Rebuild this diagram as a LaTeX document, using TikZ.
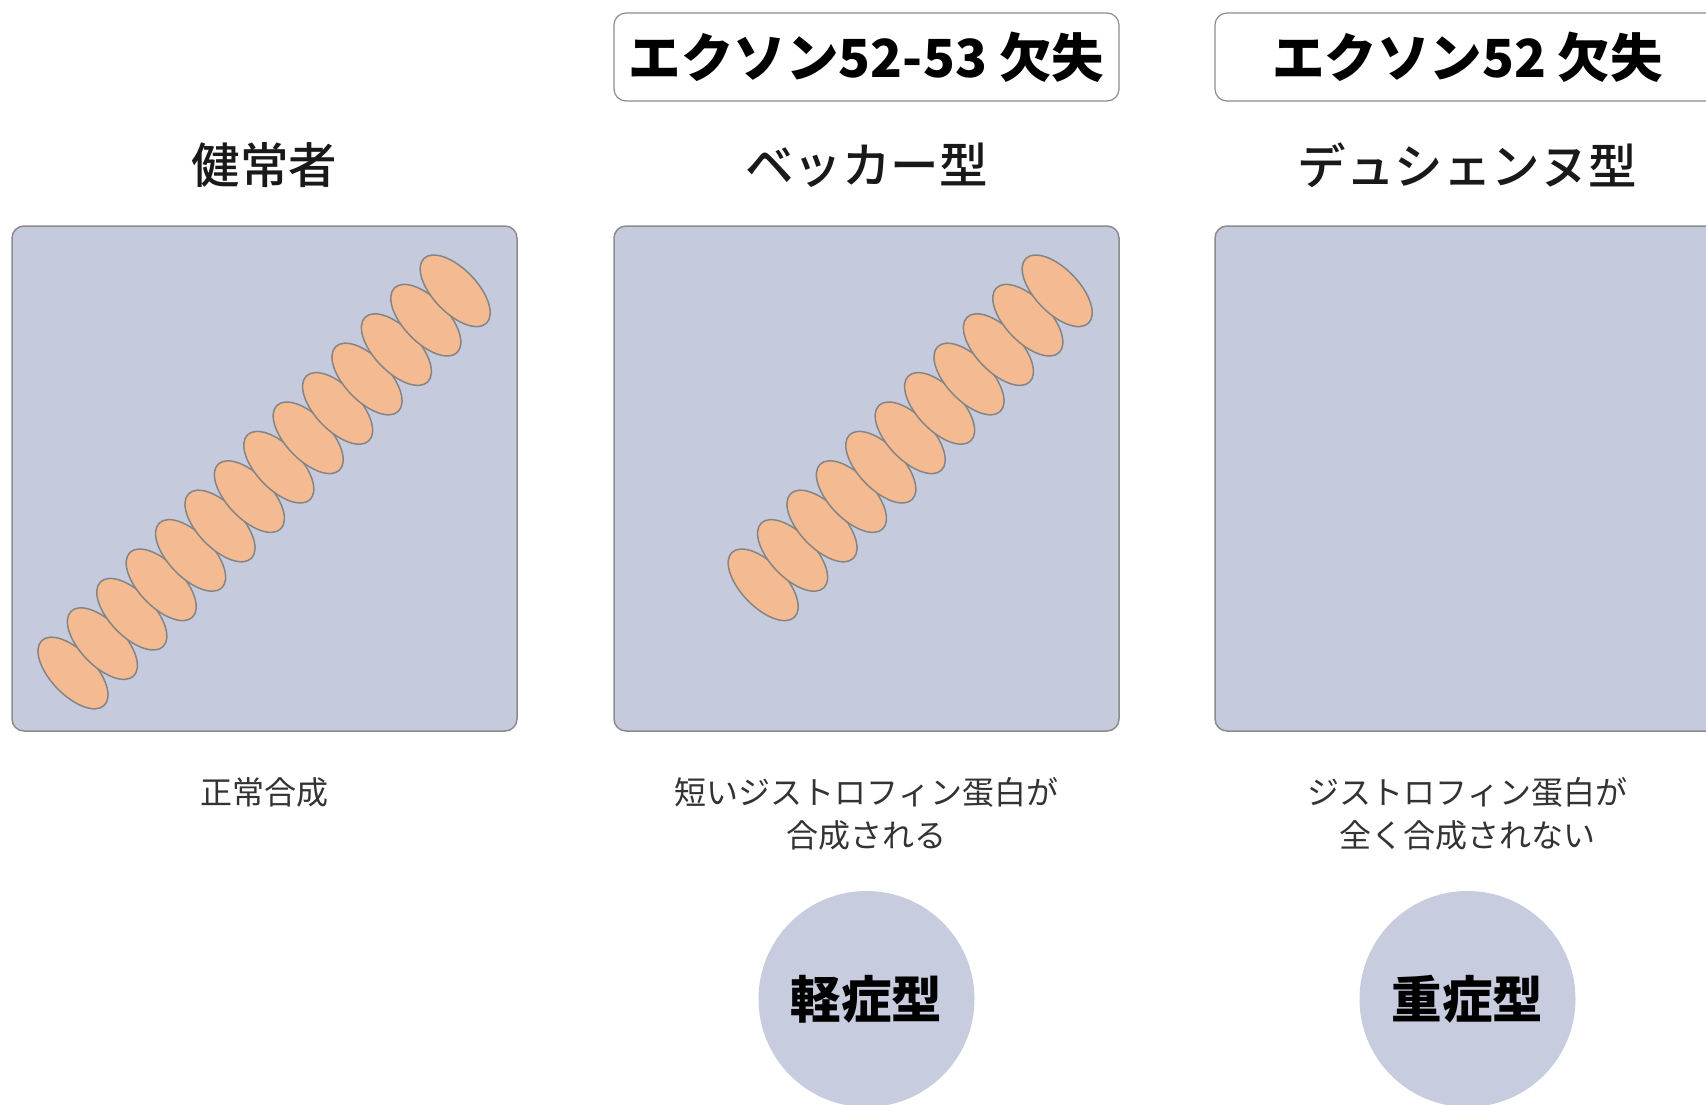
\documentclass[tikz,border=0pt]{standalone}
\usepackage{fontspec}
\setmainfont{Noto Sans CJK JP}
\newfontfamily\midfont{Noto Sans CJK JP}[UprightFont=* Medium]
\usetikzlibrary{shapes.geometric}
\definecolor{panelfill}{HTML}{C5CBDC}
\definecolor{edgegrey}{HTML}{8C8C8C}
\definecolor{beadfill}{HTML}{F4BA92}
\definecolor{beadedge}{HTML}{858585}
\definecolor{badgefill}{HTML}{C7CCDE}
\begin{document}
\begin{tikzpicture}[x=1pt,y=-1pt,
  panel/.style={draw=edgegrey, line width=1.5pt, fill=panelfill, rounded corners=12pt,
    minimum width=505pt, minimum height=505pt, inner sep=0pt},
  header/.style={draw=edgegrey, line width=1.2pt, fill=white, rounded corners=12pt,
    minimum width=505pt, minimum height=88pt, inner sep=0pt,
    font=\fontsize{52.5}{62}\selectfont\bfseries},
  subtitle/.style={font=\midfont\fontsize{48.5}{58}\selectfont, text=black!90},
  caption/.style={font=\fontsize{32}{43.5}\selectfont, align=center, text=black!80},
  badge/.style={circle, fill=badgefill, minimum size=216pt, inner sep=0pt,
    font=\fontsize{50.5}{60}\selectfont\bfseries},
  bead/.style={ellipse, draw=beadedge, line width=1.5pt, fill=beadfill,
    minimum width=90pt, minimum height=44pt, inner sep=0pt, rotate=-46}]

\useasboundingbox (0,0) rectangle (1706,1104);
\fill[white] (0,0) rectangle (1706,1104);

% deletion headers
\node[header] (hdrB) at (866.5,57) {エクソン52-53 欠失};
\node[header] (hdrD) at (1467.5,57) {エクソン52 欠失};

% column titles
\node[subtitle] (tN) at (264.5,165) {健常者};
\node[subtitle] (tB) at (866.5,165) {ベッカー型};
\node[subtitle] (tD) at (1467.5,165) {デュシェンヌ型};

% muscle panels
\node[panel] (pN) at (264.5,478.5) {};
\node[panel] (pB) at (866.5,478.5) {};
\node[panel] (pD) at (1467.5,478.5) {};

% dystrophin chains
\foreach \i in {0,...,13}
  \node[bead] (n\i) at ({73+29.4*\i},{673-29.4*\i}) {};
\foreach \i in {3,...,13}
  \node[bead] (b\i) at ({675+29.4*\i},{673-29.4*\i}) {};

% captions
\node[caption] (cN) at (264.5,792) {正常合成};
\node[caption] (cB) at (866.5,814) {短いジストロフィン蛋白が\\合成される};
\node[caption] (cD) at (1467.5,814) {ジストロフィン蛋白が\\全く合成されない};

% severity badges
\node[badge] (sB) at (866.5,999) {軽症型};
\node[badge] (sD) at (1467.5,999) {重症型};
\end{tikzpicture}
\end{document}
